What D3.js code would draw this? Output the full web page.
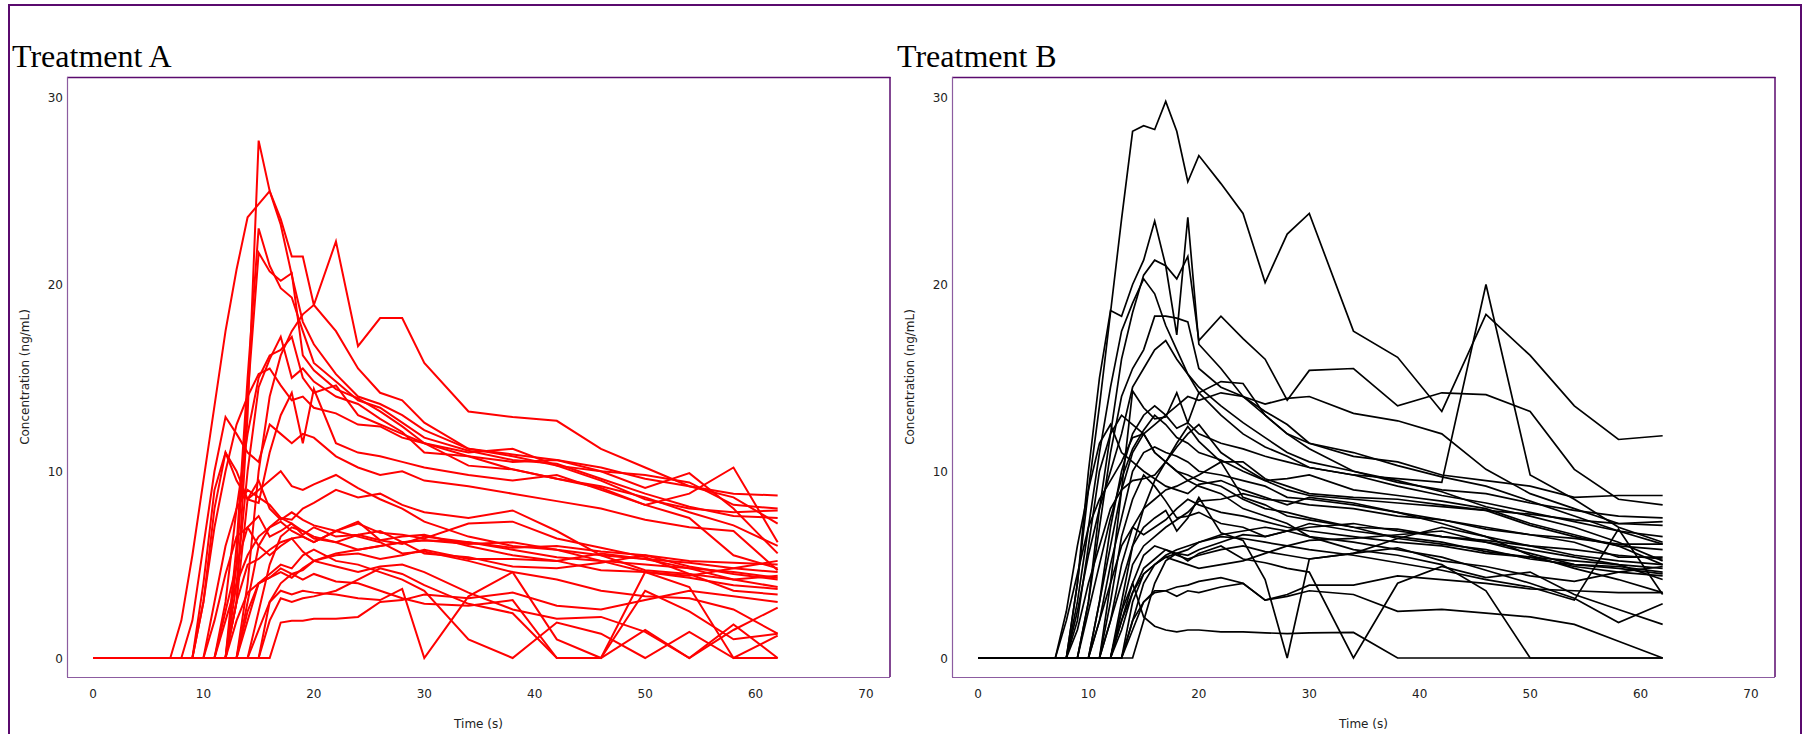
<!DOCTYPE html>
<html>
<head>
<meta charset="utf-8">
<script src="https://cdn.jsdelivr.net/npm/d3@7"></script>
<style>
  body { margin: 0; background: #fff; }
  svg { display: block; }
</style>
</head>
<body>
<div id="visual"></div>
<script>
// sampling times (s), shared by every subject
var times = [0, 7, 8, 9, 10, 11, 12, 13, 14, 15, 16, 17, 18, 19, 20, 22, 24, 26, 28, 30, 34, 38, 42, 46, 50, 54, 58, 62];
var xTicks = [0, 10, 20, 30, 40, 50, 60, 70];
var yTicks = [0, 10, 20, 30];
var titles = ["Treatment A", "Treatment B"];

// concentration (ng/mL) per subject, one value per entry of times
var treatmentA = [
  [0, 0,0,0,0,0, 0,3,13,27.7,25, 23.2,20.5,18,16.8, 15.2,14,13.6,13,12.2, 11.2,10.9,10.6,10.2,9.6,9.2,8.8,8.7],
  [0, 0,2,5.5,9.5,13.5, 17.5,20.8,23.6,24.3,25, 23.5,21.5,21.5,18.9, 17.5,15.5,14.2,13.8,12.6, 11.2,10.8,10.3,10,9.8,9.4,8.2,8.0],
  [0, 0,0,0,0,0, 0,6,15,23,21, 19.8,19.3,17.5,15.8, 14.8,13.8,13.4,12.6,11.8, 11.1,10.6,10.4,9.6,8.8,8.1,7.6,7.5],
  [0, 0,0,0,0,0, 0,5,14,21.7,20.7, 20.2,20.6,16.2,15.4, 14.4,13.9,13.2,12.4,11.5, 10.8,10.1,9.6,9.1,8.2,8.8,10.2,6.2],
  [0, 0,0,0,0,0, 0,0,4,10,14, 16.2,17.5,18.4,18.9, 22.3,16.7,18.2,18.2,15.8, 13.2,12.9,12.7,11.2,10.2,9.2,8.6,7.2],
  [0, 0,0,0,3,7, 10,12.5,14,15.2,15.5, 14.6,13.8,14,13.4, 13.1,12.5,12.4,11.8,11.5, 10.3,10.1,9.6,9.2,8.6,7.8,7.1,6.0],
  [0, 0,0,0,0,0, 0,4,10,14.5,16, 17.2,15,15.5,14.8, 14,13.6,12.8,12.1,11, 10.8,10.5,10.6,10,9.1,9.9,8,5.6],
  [0, 0,0,0,0,0, 3,8,12,15,16.2, 16.5,17.2,15,14.2, 14.6,13,12.5,12,11.5, 11,11.2,10.3,9.5,8.5,8,7.8,7.9],
  [0, 0,0,0,0,0, 0,3,8.5,8.3,11, 13,14.2,11.5,14.4, 11.5,11,10.8,10.5,10.2, 9.8,9.5,9.8,9,8.2,7.5,5.5,4.8],
  [0, 0,0,2,6,10, 12.9,12,11,10.5,12.5, 12,11.5,12,11.8, 10.8,10.2,9.8,10,9.5, 9.2,8.8,8.4,8,7.4,7,6.8,4.7],
  [0, 0,0,0,4,9, 11,9.5,8.5,9,9.5, 10,9.2,9,9.3, 9.8,9.1,8.5,8,7.3, 6.5,6,5.8,5.2,5,4.8,4.6,4.3],
  [0, 0,0,0,0,3, 6,8,9,8.6,8.2, 7.5,7.4,8,8.3, 9,8.6,8.8,8.2,7.8, 7.5,7.9,6.8,5.5,5.3,4.8,4.2,3.8],
  [0, 0,0,0,0,0, 0,0,3,6,7, 7.5,7.2,6.8,6.5, 6.2,6.6,6.3,6.5,6.6, 6,5.5,5.2,5.6,5.3,5.1,4.8,4.6],
  [0, 0,0,0,0,0, 0,0,0,2.5,5, 6.5,7,6.8,6.4, 6.2,5.8,6,6.2,6.3, 6.1,6.2,5.8,5.5,4.7,4.5,4.2,4.4],
  [0, 0,0,0,0,0, 2.5,5,7,7.6,6.5, 6.8,7.2,6.6,7, 6.5,6.6,6.8,6.2,5.6, 5.4,4.9,4.8,5.1,5.5,4.9,4.5,4.2],
  [0, 0,0,0,0,0, 0,3,5,5.3,5.8, 6.2,6.4,6.5,6.2, 6.8,7.3,6.3,6.1,6.5, 6.2,5.8,5.4,5.2,4.6,4.3,3.9,3.7],
  [0, 0,0,0,0,0, 0,0,0,0,3, 4,4.5,4.7,5.2, 5.6,5.8,6,6.2,6.3, 6.2,5.9,6,5.7,5.5,5.2,5.1,5.0],
  [0, 0,0,0,0,0, 0,0,2,4,4.3, 4.6,4.3,4.8,5.2, 5.5,5.6,5.3,5.5,5.8, 5.3,5.3,5.2,4.7,4.6,4.4,4.8,5.2],
  [0, 0,0,0,3,8, 11,10,8.5,9.5,8, 7.4,7.8,7.4,7.1, 6.8,7.2,6.7,6.6,6.4, 7.2,7.3,6.4,5.9,5.4,4.5,3.6,3.4],
  [0, 0,0,0,0,0, 0,0,0,0,0, 1.9,2,2,2.1, 2.1,2.2,3.0,3.1,3.4, 3.2,3.5,2.8,2.6,3.1,3.6,3.3,3.0],
  [0, 0,0,0,0,0, 0,0,0,1.5,3, 3.6,3.4,3.6,3.5, 3.4,3.2,3.1,3.7,0, 3.3,4.6,1,0,1.5,0,1.5,2.7],
  [0, 0,0,0,0,0, 0,2,3.5,4,4.5, 5,4.8,5.5,5.8, 5.2,5,4.6,4.2,3.6, 1,0,1.9,1.3,0,1.4,0,0],
  [0, 0,0,0,0,0, 0,0,2.5,4,4.3, 4.8,4.5,4.2,4.5, 4.1,4,3.6,3.2,2.9, 2.8,3.1,0,0,3.6,2.5,1,1.3],
  [0, 0,0,0,0,0, 0,0,0,0,2, 3.2,3,3.2,3.3, 3.6,4.2,4.8,4.5,3.9, 2.9,2.4,0,0,4.6,3.8,0,1.2],
  [0, 0,0,0,0,2, 4.5,6.5,7,6,5.5, 6,6.4,5.7,5.2, 4.9,4.6,4.9,5,4.6, 3.5,2.6,2.1,2.2,1.4,0,1.8,0],
  [0, 0,0,0,0,0, 2,4,5.5,6.5,7, 7.3,6.8,6.5,6.2, 6.8,6.5,6.2,5.6,5.7, 5.2,4.6,4.2,3.6,3.3,3.2,2.6,1.3]
];

var treatmentB = [
  [0, 0,0,4,9,13.5, 18.5,23.5,28.2,28.5,28.3, 29.8,28.2,25.5,26.9, 25.4,23.8,20.1,22.7,23.8, 17.5,16.1,13.2,18.4,16.2,13.5,11.7,11.9],
  [0, 0,0,4,10,15, 18.6,18.3,20,21.3,23.4, 21,17.3,23.6,16.8, 15.5,14,13,12,11.2, 10,9.4,9,8.8,8.3,7.9,7.6,7.5],
  [0, 0,0,0,3,8, 12,16,18.5,20.5,21.3, 21,20.3,21.5,17, 18.3,17.1,16,13.8,15.4, 15.5,13.5,14.2,14.1,13.2,10.1,8.5,8.2],
  [0, 0,0,0,3,7, 11,14,15.5,16.5,18.3, 18.3,18.2,18,15.5, 14.5,14,13.2,12.5,11.5, 10.8,10.5,9.8,9.5,9.2,8.6,8.7,8.7],
  [0, 0,0,0,0,3, 7,10,12,13,13.5, 13,12.3,12.6,12, 11.5,11.2,10.8,10.5,10.2, 9.8,9.6,9.4,20,9.8,8.5,7,6.2],
  [0, 0,0,0,0,0, 4,9,14.3,13.4,12.8, 12.9,14.2,12.6,14.2, 14.8,14.7,13,12,11.5, 11,10.3,9.7,9.2,8.4,7.6,6.8,6.1],
  [0, 0,0,2,6,10, 12,13,12.5,12,12.5, 13,13.5,14,13.8, 14.2,14,13.6,13.9,14, 13.1,12.7,12,10.1,8.8,8,7.2,7.1],
  [0, 0,2.5,6,9,11.5, 12.5,11,10.5,10,9.6, 9.2,9,8.8,9.3, 9.5,9,8.6,8.2,8.6, 8.3,7.8,7.2,6.5,6,5.5,5.2,5],
  [0, 0,2,4.5,7,8.5, 9.5,10.5,11.8,12,11, 10.5,10,9.8,9.5, 9.2,8.5,8,7.8,7.5, 7,6.4,6.1,5.8,5.3,5,4.8,4.5],
  [0, 0,0,1.5,4,6, 8,9,9.5,9.6,9.8, 10.5,11.5,12.4,11.6, 10.5,10.5,9.6,9.2,8.8, 8.6,8.5,8.2,7.9,7.1,6.5,6,5.8],
  [0, 0,0,0,0,0, 2,4,6,7,7.5, 7.9,6.8,7.5,8.6, 6.7,6.3,4.2,0,5.3, 5.6,5.9,5.2,4.9,4.4,4.1,4.6,4.9],
  [0, 0,0,0,0,0, 0,2,3.5,4.8,5.3, 5.8,5.6,5.2,5.6, 6,5.3,5.1,4.8,4.6, 0,4,4.9,4.3,4.6,3.4,2.6,1.8],
  [0, 0,0,0,0,0, 0,2.5,4,2.2,1.7, 1.5,1.4,1.5,1.5, 1.4,1.4,1.35,1.3,1.35, 1.37,0,0,0,0,0,0,0],
  [0, 0,0,0,0,3, 6,9,11,12,11, 10.5,10,9.5,9.2, 8.8,8,7.6,7.2,6.5, 5.8,5.5,5,3.6,0,0,0,0],
  [0, 0,0,0,0,0, 0,0,2,3,3.5, 3.6,3.3,3.6,3.5, 3.8,4,3.1,3.3,3.6, 3.4,2.5,2.6,2.4,2.2,1.8,0.9,0],
  [0, 0,0,0,0,0, 0,0,3,4.5,5, 5.4,5.6,5.8,6.2, 6.5,6.4,6.2,6,5.8, 5.5,5.1,4.7,4.2,3.8,3.1,6.9,3.4],
  [0, 0,0,0,0,0, 0,1.5,3.5,4.5,5, 5.5,5.8,6,6.2, 6.6,6.8,7,6.8,6.5, 6.2,5.8,5.4,4.7,4,3.2,1.9,2.9],
  [0, 0,0,0,0,0, 2,5,7,8,8.5, 9,9.2,9.5,9.8, 10.5,8.6,8.2,7.6,7.4, 7,6.9,6.5,6.2,5.8,5.4,5,4.8],
  [0, 0,0,0,0,0, 0,0,0,2,4, 5.2,5.6,5.5,5.8, 6.2,6.6,6.5,6.8,7, 7.2,6.8,6.5,6.3,6,5.8,5.5,5.3],
  [0, 0,0,0,0,0, 0,0,2,4,5, 5.4,5.2,5,4.8, 5,5.2,5.6,6,6.3, 6.4,6.6,6.8,6.2,5.6,5,4.9,4.6],
  [0, 0,0,0,0,0, 0,0,1.5,3,3.6, 3.6,3.8,3.9,4.1, 4.3,4,3.1,3.4,3.9, 3.9,4.4,4.2,4,3.7,3.6,3.5,3.5],
  [0, 0,0,0,0,0, 3,6.5,8.5,9.8,9.2, 8.4,7.5,7.6,7.8, 7.2,7,6.5,6.8,7.2, 6.8,6.5,6.2,5.7,5.4,4.9,4.6,4.4],
  [0, 0,0,0,0,2, 5,7.5,10,11,11.3, 11,10.8,10.5,10, 9.8,9.5,9.2,8.6,8.5, 8.2,7.8,7.4,6.9,6.6,6.4,6.1,6.1],
  [0, 0,0,0,0,0, 0,2.5,5,6,6.5, 7,7.4,7.8,8.4, 8.5,8.8,8.5,8.4,8.2, 8,7.6,7.4,7,6.6,6.2,5.4,5.4],
  [0, 0,0,0,2.5,5, 7.5,9.6,11.2,12.2,13, 12.5,11.8,11.5,11, 10.6,10,9.5,9.6,9.8, 9,8.7,8.4,8,7.2,6.6,6,5],
  [0, 0,0,2.5,5.5,8, 10,12,14.5,15.5,16.5, 17,16,15.2,14.5, 13.5,12.6,11.8,11,10.5, 10,9.5,8.9,8.1,7.6,7,6.2,5.2],
  [0, 0,0,3,7,11, 14.5,17.5,19,20.3,19.5, 17.8,16.5,15.2,14.2, 13,12,11.3,10.8,10.2, 9.8,9.2,8.7,8.3,7.8,7.3,6.8,6.5],
  [0, 0,0,0,0,2, 4,6,7,6.6,7, 7.4,8,8.5,8.2, 7.8,7.6,7.3,7,6.8, 6.5,6.2,6,5.6,5.4,5.2,5,4.2],
  [0, 0,0,0,0,0, 0,2,4,5.5,6, 5.8,5.5,5.3,5.5, 5.8,6,5.7,5.5,5.3, 5.6,6.4,7,6.5,5.5,4.8,4.2,3.5],
  [0, 0,0,0,0,0, 0,3,6,8,9.5, 10.5,11.3,12,12.5, 11,10.2,9.5,9,8.7, 8.5,8.3,8.1,7.9,7.7,7.4,7.2,7.3]
];

var width = 1803,
    height = 734,
    purple = "#5a0a6e",
    purpleLight = "#8c5ca0";

var svg = d3.select("#visual").append("svg")
    .attr("width", width)
    .attr("height", height);

// outer page border (bottom runs off the window)
svg.append("rect")
    .attr("x", 9).attr("y", 5)
    .attr("width", 1792).attr("height", 760)
    .attr("fill", "none")
    .attr("stroke", purple)
    .attr("stroke-width", 2);

function drawPanel(left, title, data, colour, lineWidth) {
    var frame = { x0: left, x1: left + 823, y0: 77, y1: 677 };

    var x = d3.scaleLinear()
        .domain([0, 70])
        .range([frame.x0 + 26, frame.x1 - 24]);

    var y = d3.scaleLinear()
        .domain([0, 30])
        .range([frame.y1 - 19, frame.y0 + 20.7]);

    var g = svg.append("g");

    g.append("text")
        .attr("x", left - 55)
        .attr("y", 67)
        .attr("font-family", "'Liberation Serif', 'Times New Roman', serif")
        .attr("font-size", 32)
        .attr("fill", "#000")
        .text(title);

    // frame: top/right dark, left/bottom lighter like the original
    g.append("line").attr("x1", frame.x0).attr("x2", frame.x1 + 0.5)
        .attr("y1", frame.y0 + 0.5).attr("y2", frame.y0 + 0.5)
        .attr("stroke", purple).attr("stroke-width", 1.3);
    g.append("line").attr("x1", frame.x1).attr("x2", frame.x1)
        .attr("y1", frame.y0).attr("y2", frame.y1)
        .attr("stroke", purple).attr("stroke-width", 1.5);
    g.append("line").attr("x1", frame.x0 + 0.5).attr("x2", frame.x0 + 0.5)
        .attr("y1", frame.y0).attr("y2", frame.y1)
        .attr("stroke", purpleLight).attr("stroke-width", 1.2);
    g.append("line").attr("x1", frame.x0).attr("x2", frame.x1)
        .attr("y1", frame.y1 + 0.5).attr("y2", frame.y1 + 0.5)
        .attr("stroke", purpleLight).attr("stroke-width", 1.2);

    var labelFont = "'DejaVu Sans', Verdana, sans-serif";

    g.selectAll(".xtick")
        .data(xTicks)
      .enter().append("text")
        .attr("class", "xtick")
        .attr("x", function (d) { return x(d); })
        .attr("y", 698)
        .attr("text-anchor", "middle")
        .attr("font-family", labelFont)
        .attr("font-size", 12)
        .attr("fill", "#222")
        .text(function (d) { return d; });

    g.selectAll(".ytick")
        .data(yTicks)
      .enter().append("text")
        .attr("class", "ytick")
        .attr("x", frame.x0 - 4)
        .attr("y", function (d) { return y(d) + 4.5; })
        .attr("text-anchor", "end")
        .attr("font-family", labelFont)
        .attr("font-size", 12)
        .attr("fill", "#222")
        .text(function (d) { return d; });

    g.append("text")
        .attr("x", (frame.x0 + frame.x1) / 2)
        .attr("y", 728)
        .attr("text-anchor", "middle")
        .attr("font-family", labelFont)
        .attr("font-size", 12)
        .attr("fill", "#222")
        .text("Time (s)");

    g.append("text")
        .attr("transform", "translate(" + (frame.x0 - 38) + "," + ((frame.y0 + frame.y1) / 2) + ") rotate(-90)")
        .attr("text-anchor", "middle")
        .attr("font-family", labelFont)
        .attr("font-size", 12)
        .attr("fill", "#222")
        .text("Concentration (ng/mL)");

    var line = d3.line()
        .x(function (d, i) { return x(times[i]); })
        .y(function (d) { return y(d); });

    g.selectAll(".subject")
        .data(data)
      .enter().append("path")
        .attr("class", "subject")
        .attr("d", line)
        .attr("fill", "none")
        .attr("stroke", colour)
        .attr("stroke-width", lineWidth)
        .attr("stroke-linejoin", "miter");
}

drawPanel(67, titles[0], treatmentA, "#ff0000", 2);
drawPanel(952, titles[1], treatmentB, "#000000", 1.7);
</script>
</body>
</html>
